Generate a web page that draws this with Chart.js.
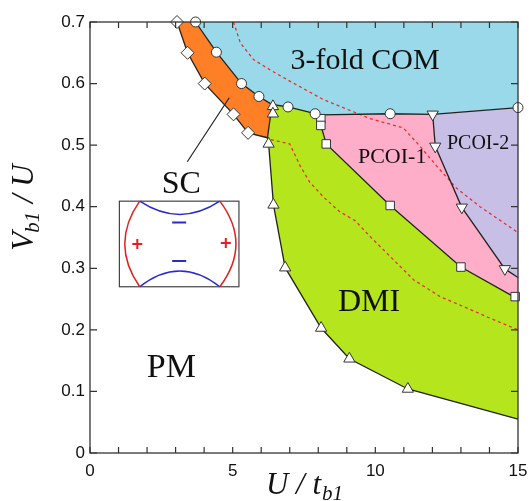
<!DOCTYPE html>
<html>
<head>
<meta charset="utf-8">
<script src="https://cdn.jsdelivr.net/npm/chart.js@4.4.1/dist/chart.umd.min.js"></script>
<style>
  html, body { margin: 0; padding: 0; background: #fff; }
</style>
</head>
<body>
<canvas id="phase" width="531" height="501"></canvas>
<script>
// axis ticks
var xTickLabels = [0, 5, 10, 15];
var xMinorTicks = [0,1,2,3,4,5,6,7,8,9,10,11,12,13,14,15];
var yMinorTicks = [0, 0.1, 0.2, 0.3, 0.4, 0.5, 0.6, 0.7];

// computed points (U/t_b1, V_b1/U)
var diamondPts = [[3.05,0.70],[3.42,0.65],[4.02,0.60],[5.03,0.55],[5.54,0.52]];
var circlePts = [[3.70,0.70],[4.43,0.651],[5.31,0.600],[5.92,0.579],[6.94,0.562],[7.89,0.551],[10.52,0.551],[15,0.561]];
var triUpPts = [[6.41,0.563],[6.41,0.551],[6.26,0.502],[6.43,0.403],[6.84,0.301],[8.10,0.203],[9.09,0.153],[11.14,0.104]];
var squarePts = [[8.09,0.543],[8.09,0.532],[8.28,0.502],[10.52,0.402],[13.0,0.302],[14.9,0.254]];
var triDownPts = [[12.01,0.550],[12.10,0.498],[13.03,0.399],[14.54,0.299]];

// phase boundaries
var scLeftLine = [[3.05,0.70],[3.42,0.65],[4.02,0.60],[5.03,0.55],[5.54,0.52],[6.22,0.512]];
var comLine = [[3.70,0.70],[4.43,0.651],[5.31,0.600],[5.92,0.579],[6.38,0.566],[6.94,0.562],[7.89,0.551],[8.09,0.549],[10.52,0.551],[12.01,0.550],[15,0.561]];
var dmiLowerLine = [[6.38,0.566],[6.22,0.512],[6.26,0.502],[6.43,0.403],[6.84,0.301],[8.10,0.203],[9.09,0.153],[11.14,0.104],[15,0.055]];
var dmiUpperLine = [[8.09,0.549],[8.09,0.532],[8.28,0.502],[10.52,0.402],[13.0,0.302],[15,0.250]];
var pcoiLine = [[12.01,0.550],[12.10,0.498],[13.03,0.399],[14.54,0.299],[15,0.285]];

// red dashed lines
var dashA = [[5.03,0.70],[5.27,0.666],[5.73,0.639],[6.32,0.622],[7.0,0.604],[8.18,0.574],[9.82,0.543],[10.98,0.528],[11.57,0.498],[12.15,0.466],[12.85,0.430],[13.67,0.400],[15,0.358]];
var dashB = [[6.34,0.509],[7.0,0.502],[7.37,0.466],[7.7,0.440],[8.2,0.415],[8.75,0.392],[9.3,0.377],[9.85,0.350],[10.5,0.320],[11.35,0.281],[12.27,0.254],[13.08,0.238],[14.02,0.219],[15,0.200]];

// phase regions
var comRegion = [[3.70,0.70],[15,0.70],[15,0.561],[12.01,0.550],[10.52,0.551],[8.09,0.549],[7.89,0.551],[6.94,0.562],[6.38,0.566],[5.92,0.579],[5.31,0.600],[4.43,0.651]];
var scRegion = [[3.05,0.70],[3.70,0.70],[4.43,0.651],[5.31,0.600],[5.92,0.579],[6.38,0.566],[6.22,0.512],[5.54,0.520],[5.03,0.550],[4.02,0.600],[3.42,0.650]];
var dmiRegion = [[6.38,0.566],[6.94,0.562],[7.89,0.551],[8.09,0.549],[8.09,0.532],[8.28,0.502],[10.52,0.402],[13.0,0.302],[15,0.250],[15,0.055],[11.14,0.104],[9.09,0.153],[8.10,0.203],[6.84,0.301],[6.43,0.403],[6.26,0.502],[6.22,0.512]];
var pcoi1Region = [[8.09,0.549],[10.52,0.551],[12.01,0.550],[12.10,0.498],[13.03,0.399],[14.54,0.299],[15,0.285],[15,0.250],[13.0,0.302],[10.52,0.402],[8.28,0.502],[8.09,0.532]];
var pcoi2Region = [[12.01,0.550],[15,0.561],[15,0.285],[14.54,0.299],[13.03,0.399],[12.10,0.498]];

// phase names: text, u, v (baseline), font size
var phaseLabels = [
  ['3-fold COM', 9.64, 0.624, 30],
  ['PCOI-1', 10.59, 0.4715, 22],
  ['PCOI-2', 13.6, 0.494, 20],
  ['DMI', 9.78, 0.231, 32],
  ['PM', 2.85, 0.124, 34],
  ['SC', 3.2, 0.423, 32]
];
var scPointer = [[3.41,0.473],[4.88,0.577]];
var insetBox = [1.03, 0.409, 5.22, 0.270]; // u0, v0, u1, v1

function pts(a) {
  return a.map(function (p) { return {x: p[0], y: p[1]}; });
}

function regionSet(a, color) {
  return {data: pts(a), showLine: false, pointRadius: 0, regionColor: color, order: 9};
}

function lineSet(a) {
  return {data: pts(a), showLine: true, borderColor: '#222', borderWidth: 1.3, pointRadius: 0, tension: 0, order: 2, clip: false};
}

function dashSet(a) {
  return {data: pts(a), showLine: true, borderColor: '#e8322a', borderWidth: 1.3, borderDash: [3, 3], pointRadius: 0, tension: 0, order: 3};
}

function markerSet(a, style, r, rot) {
  return {data: pts(a), showLine: false, pointStyle: style, pointRadius: r, pointRotation: rot || 0,
    backgroundColor: '#fff', borderColor: '#333', borderWidth: 1, order: 0, clip: false};
}

var regionPlugin = {
  id: 'regions',
  beforeDatasetsDraw: function (chart) {
    var ctx = chart.ctx, area = chart.chartArea;
    ctx.save();
    ctx.beginPath();
    ctx.rect(area.left, area.top, area.right - area.left, area.bottom - area.top);
    ctx.clip();
    chart.data.datasets.forEach(function (ds, i) {
      if (!ds.regionColor) return;
      var els = chart.getDatasetMeta(i).data;
      ctx.beginPath();
      els.forEach(function (el, k) {
        if (k === 0) ctx.moveTo(el.x, el.y); else ctx.lineTo(el.x, el.y);
      });
      ctx.closePath();
      ctx.fillStyle = ds.regionColor;
      ctx.fill();
    });
    ctx.restore();
  }
};

var decorPlugin = {
  id: 'decor',
  afterDraw: function (chart) {
    var ctx = chart.ctx, area = chart.chartArea;
    var xs = chart.scales.x, ys = chart.scales.y;
    ctx.save();

    // frame
    ctx.strokeStyle = '#333';
    ctx.lineWidth = 1.3;
    ctx.strokeRect(area.left, area.top, area.right - area.left, area.bottom - area.top);

    // inward ticks
    ctx.lineWidth = 1.2;
    ctx.beginPath();
    xMinorTicks.forEach(function (u) {
      var px = xs.getPixelForValue(u);
      ctx.moveTo(px, area.bottom); ctx.lineTo(px, area.bottom - 6);
      ctx.moveTo(px, area.top); ctx.lineTo(px, area.top + 6);
    });
    yMinorTicks.forEach(function (v) {
      var py = ys.getPixelForValue(v);
      ctx.moveTo(area.left, py); ctx.lineTo(area.left + 7, py);
      ctx.moveTo(area.right, py); ctx.lineTo(area.right - 7, py);
    });
    ctx.stroke();

    // phase names
    ctx.fillStyle = '#111';
    ctx.textAlign = 'center';
    ctx.textBaseline = 'alphabetic';
    phaseLabels.forEach(function (l) {
      ctx.font = l[3] + 'px "Liberation Serif", "Times New Roman", serif';
      ctx.fillText(l[0], xs.getPixelForValue(l[1]), ys.getPixelForValue(l[2]));
    });

    // pointer from SC label
    ctx.strokeStyle = '#222';
    ctx.lineWidth = 1.2;
    ctx.beginPath();
    ctx.moveTo(xs.getPixelForValue(scPointer[0][0]), ys.getPixelForValue(scPointer[0][1]));
    ctx.lineTo(xs.getPixelForValue(scPointer[1][0]), ys.getPixelForValue(scPointer[1][1]));
    ctx.stroke();

    // inset: gap function sketch
    var bx0 = xs.getPixelForValue(insetBox[0]), by0 = ys.getPixelForValue(insetBox[1]);
    var bx1 = xs.getPixelForValue(insetBox[2]), by1 = ys.getPixelForValue(insetBox[3]);
    var w = bx1 - bx0, h = by1 - by0;
    ctx.fillStyle = '#fff';
    ctx.fillRect(bx0, by0, w, h);
    ctx.strokeStyle = '#444';
    ctx.lineWidth = 1.2;
    ctx.strokeRect(bx0, by0, w, h);
    var ax0 = bx0 + w * 0.17, ax1 = bx0 + w * 0.84;
    ctx.lineWidth = 1.5;
    ctx.strokeStyle = '#2a2ad0';
    ctx.beginPath();
    ctx.moveTo(ax0, by0); ctx.quadraticCurveTo((ax0 + ax1) / 2, by0 + h * 0.31, ax1, by0);
    ctx.moveTo(ax0, by1); ctx.quadraticCurveTo((ax0 + ax1) / 2, by1 - h * 0.37, ax1, by1);
    ctx.stroke();
    ctx.strokeStyle = '#e02020';
    ctx.beginPath();
    ctx.moveTo(ax0, by0); ctx.quadraticCurveTo(ax0 - w * 0.25, (by0 + by1) / 2, ax0, by1);
    ctx.moveTo(ax1, by0); ctx.quadraticCurveTo(ax1 + w * 0.27, (by0 + by1) / 2, ax1, by1);
    ctx.stroke();
    // signs
    ctx.lineWidth = 2;
    ctx.beginPath();
    [[bx0 + w * 0.15, by0 + h * 0.5], [bx0 + w * 0.89, by0 + h * 0.49]].forEach(function (c) {
      ctx.moveTo(c[0] - 5, c[1]); ctx.lineTo(c[0] + 5, c[1]);
      ctx.moveTo(c[0], c[1] - 5); ctx.lineTo(c[0], c[1] + 5);
    });
    ctx.stroke();
    ctx.strokeStyle = '#2a2ad0';
    ctx.beginPath();
    [by0 + h * 0.25, by0 + h * 0.70].forEach(function (yy) {
      var cx = bx0 + w * 0.5;
      ctx.moveTo(cx - 7, yy); ctx.lineTo(cx + 7, yy);
    });
    ctx.stroke();

    // axis titles with subscripts
    ctx.fillStyle = '#111';
    ctx.textAlign = 'left';
    var big = 'italic 31px "Liberation Serif", "Times New Roman", serif';
    var sub = 'italic 21px "Liberation Serif", "Times New Roman", serif';
    // x title: U / t_b1
    var cx = (area.left + area.right) / 2;
    ctx.font = big;
    var wMain = ctx.measureText('U / t').width;
    ctx.font = sub;
    var wSub = ctx.measureText('b1').width;
    var sx = cx - (wMain + wSub) / 2;
    var base = 494;
    ctx.font = big;
    ctx.fillText('U / t', sx, base);
    ctx.font = sub;
    ctx.fillText('b1', sx + wMain + 1, base + 6);

    // y title: V_b1 / U (rotated)
    ctx.translate(33, (area.top + area.bottom) / 2 - 30);
    ctx.rotate(-Math.PI / 2);
    ctx.font = big;
    var wV = ctx.measureText('V').width;
    ctx.font = sub;
    var wB = ctx.measureText('b1').width;
    ctx.font = big;
    var wU = ctx.measureText(' / U').width;
    var total = wV + wB + wU;
    var x0 = -total / 2;
    ctx.fillText('V', x0, 0);
    ctx.font = sub;
    ctx.fillText('b1', x0 + wV - 1, 6);
    ctx.font = big;
    ctx.fillText(' / U', x0 + wV + wB, 0);

    ctx.restore();
  }
};

var tickFont = {family: '"Liberation Sans", Arial, sans-serif', size: 17};

new Chart(document.getElementById('phase').getContext('2d'), {
  type: 'scatter',
  data: {
    datasets: [
      markerSet(diamondPts, 'rectRot', 6.5),
      markerSet(circlePts, 'circle', 5),
      markerSet(triUpPts, 'triangle', 6.5),
      markerSet(squarePts, 'rect', 6),
      markerSet(triDownPts, 'triangle', 6.5, 180),
      lineSet(scLeftLine),
      lineSet(comLine),
      lineSet(dmiLowerLine),
      lineSet(dmiUpperLine),
      lineSet(pcoiLine),
      dashSet(dashA),
      dashSet(dashB),
      regionSet(comRegion, '#99d9ea'),
      regionSet(scRegion, '#ff7f27'),
      regionSet(dmiRegion, '#b5e61d'),
      regionSet(pcoi1Region, '#ffaec9'),
      regionSet(pcoi2Region, '#c8bfe7')
    ]
  },
  options: {
    responsive: false,
    devicePixelRatio: 1,
    animation: false,
    layout: {padding: {top: 22, right: 13, left: 0, bottom: 0}},
    plugins: {legend: {display: false}, tooltip: {enabled: false}},
    scales: {
      x: {
        type: 'linear', min: 0, max: 15,
        afterBuildTicks: function (s) { s.ticks = xTickLabels.map(function (v) { return {value: v}; }); },
        ticks: {font: tickFont, color: '#111', padding: 8, maxRotation: 0,
          callback: function (v) { return String(v); }},
        grid: {display: false, drawTicks: false},
        border: {display: false},
        afterFit: function (s) { s.height = 48; s.paddingLeft = 0; s.paddingRight = 0; }
      },
      y: {
        type: 'linear', min: 0, max: 0.7,
        afterBuildTicks: function (s) { s.ticks = yMinorTicks.map(function (v) { return {value: v}; }); },
        ticks: {font: tickFont, color: '#111', padding: 5,
          callback: function (v) { return v === 0 ? '0' : v.toFixed(1); }},
        grid: {display: false, drawTicks: false},
        border: {display: false},
        afterFit: function (s) { s.width = 90; s.paddingTop = 0; s.paddingBottom = 0; }
      }
    }
  },
  plugins: [regionPlugin, decorPlugin]
});
</script>
</body>
</html>
